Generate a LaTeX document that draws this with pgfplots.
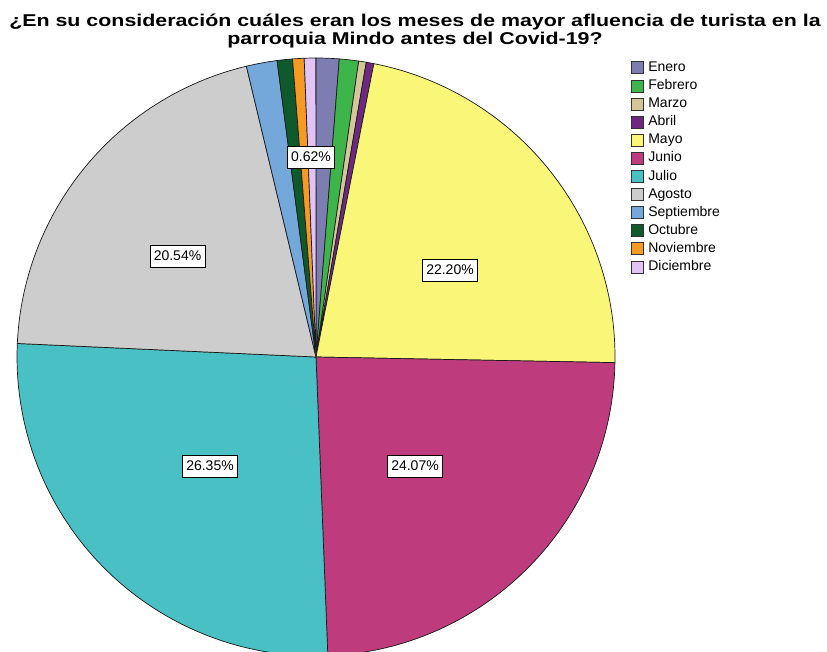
\documentclass[border=0pt]{standalone}
\usepackage{pgfplots}
\pgfplotsset{compat=1.18}
\usepackage{pgfplotstable}
\usepackage{fontspec}
\setmainfont{Liberation Sans}
\newfontfamily\titlefont[FakeStretch=1.25]{Liberation Sans}

\definecolor{c0}{RGB}{125,125,178}
\definecolor{c1}{RGB}{61,181,74}
\definecolor{c2}{RGB}{211,199,152}
\definecolor{c3}{RGB}{110,40,130}
\definecolor{c4}{RGB}{250,246,120}
\definecolor{c5}{RGB}{190,60,125}
\definecolor{c6}{RGB}{72,192,196}
\definecolor{c7}{RGB}{205,205,205}
\definecolor{c8}{RGB}{116,168,218}
\definecolor{c9}{RGB}{14,90,45}
\definecolor{c10}{RGB}{245,155,35}
\definecolor{c11}{RGB}{225,195,245}

% porcentajes de cada mes (orden horario desde las 12)
\pgfplotstableread{
mes pct
Enero 1.24
Febrero 1.04
Marzo 0.41
Abril 0.41
Mayo 22.20
Junio 24.07
Julio 26.35
Agosto 20.54
Septiembre 1.66
Octubre 0.83
Noviembre 0.62
Diciembre 0.62
}\pietable

\begin{document}
\begin{tikzpicture}
\begin{axis}[
  x=1pt, y=1pt,
  xmin=0, xmax=827, ymin=0, ymax=651,
  hide axis,
  legend style={at={(0.7594,0.9110)}, anchor=north west, draw=none, fill=none,
    font=\fontsize{14}{15}\selectfont, row sep=2.8pt, column sep=3.5pt,
    nodes={inner sep=1pt, text height=10.3pt, text depth=3pt},
    cells={anchor=west}},
  legend image code/.code={\draw[#1, draw=black!80, line width=0.6pt] (0pt,-6pt) rectangle (12pt,6pt);},
]
\def\sa{90}
\pgfplotsforeachungrouped \i in {0,...,11}{%
  \pgfplotstablegetelem{\i}{pct}\of\pietable
  \let\p=\pgfplotsretval
  \pgfmathsetmacro\ea{\sa-3.6*\p}%
  \edef\cmd{\noexpand\fill[fill=c\i, draw=black!90, line width=0.7pt, line join=round]
    (axis cs:316,294) -- ++(\sa:299pt) arc[start angle=\sa, end angle=\ea, radius=299pt] -- cycle;}%
  \cmd
  \global\let\sa\ea
}

\addlegendimage{fill=c0}\addlegendentry{Enero}
\addlegendimage{fill=c1}\addlegendentry{Febrero}
\addlegendimage{fill=c2}\addlegendentry{Marzo}
\addlegendimage{fill=c3}\addlegendentry{Abril}
\addlegendimage{fill=c4}\addlegendentry{Mayo}
\addlegendimage{fill=c5}\addlegendentry{Junio}
\addlegendimage{fill=c6}\addlegendentry{Julio}
\addlegendimage{fill=c7}\addlegendentry{Agosto}
\addlegendimage{fill=c8}\addlegendentry{Septiembre}
\addlegendimage{fill=c9}\addlegendentry{Octubre}
\addlegendimage{fill=c10}\addlegendentry{Noviembre}
\addlegendimage{fill=c11}\addlegendentry{Diciembre}

\tikzset{lbl/.style={draw=black, fill=white, line width=0.9pt, inner xsep=3.8pt, inner ysep=0pt,
  minimum height=22pt, font=\fontsize{14}{15}\selectfont}}
\node[lbl] at (axis cs:311,494) {0.62\%};
\node[lbl] at (axis cs:177.5,395) {20.54\%};
\node[lbl] at (axis cs:450,381) {22.20\%};
\node[lbl] at (axis cs:415,185) {24.07\%};
\node[lbl] at (axis cs:210,185) {26.35\%};

\node[anchor=base, font=\titlefont\bfseries\fontsize{17.1}{18}\selectfont] at (axis cs:415,624)
  {¿En su consideración cuáles eran los meses de mayor afluencia de turista en la};
\node[anchor=base, font=\titlefont\bfseries\fontsize{17.1}{18}\selectfont] at (axis cs:415,606)
  {parroquia Mindo antes del Covid-19?};
\end{axis}
\pgfresetboundingbox
\path[use as bounding box] (current axis.south west) rectangle (current axis.north east);
\end{tikzpicture}
\end{document}
